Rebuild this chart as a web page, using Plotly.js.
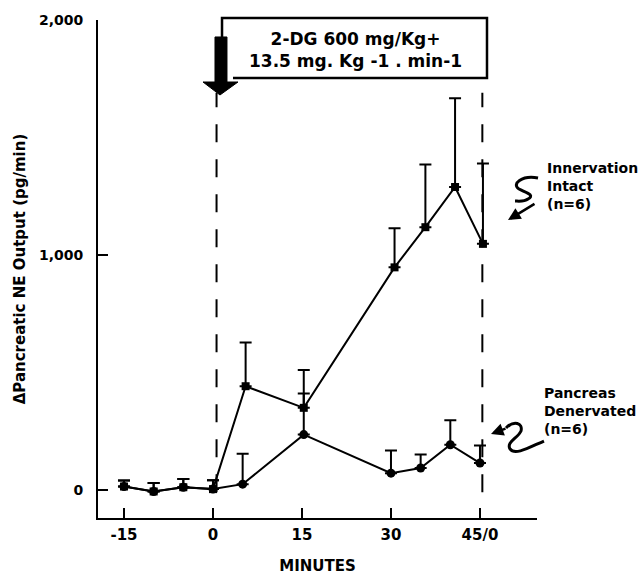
<!DOCTYPE html>
<html><head><meta charset="utf-8">
<script src="https://cdn.plot.ly/plotly-3.0.1.min.js"></script>
<style>html,body{margin:0;padding:0;background:#fff}</style>
</head><body><div id="chart" style="width:644px;height:575px"></div>
<script>
// ---- data ----
const minutesIntact = [-15, -10, -5, 0, 5.5, 15.3, 30.6, 35.8, 40.8, 45.5];
const intactNE = [14, -7, 11, 3, 441, 349, 947, 1118, 1289, 1047];
const intactSEM = [26, 36, 35, 38, 186, 161, 167, 267, 378, 342];
const minutesDenervated = [-15, -10, -5, 0, 5, 15.3, 30, 35, 40, 45];
const denervatedNE = [14, -7, 11, 3, 24, 235, 71, 93, 192, 114];
const denervatedSEM = [26, 36, 35, 38, 130, 175, 96, 57, 104, 75];
const xTickVals = [-15, 0, 15, 30, 45];
const xTickText = ['-15', '0', '15', '30', '45/0'];
const yTickVals = [0, 1000, 2000];
const yTickText = ['0', '1,000', '2,000'];
const infusionStart = 0.6;
const infusionEnd = 45.4;
const boxText = '2-DG 600 mg/Kg+<br>13.5 mg. Kg -1 . min-1';
const intactLabel = ['Innervation', 'Intact', '(n=6)'];
const denervLabel = ['Pancreas', 'Denervated', '(n=6)'];

// ---- geometry ----
const W = 644, H = 575, ML = 98, MR = 107, MT = 20, MB = 57;
const PW = W - ML - MR, PH = H - MT - MB;
const px = x => (x - ML) / PW;
const py = y => (H - MB - y) / PH;
function path(cmds) {
  return cmds.map(c => {
    if (typeof c === 'string') return c;
    return px(c[0]).toFixed(4) + ',' + py(c[1]).toFixed(4);
  }).join(' ');
}
const FONT = 'DejaVu Sans';
const bold = (size) => ({family: FONT, size: size, color: '#000', weight: 700});

const traces = [
  {
    x: minutesIntact, y: intactNE, type: 'scatter', mode: 'lines+markers',
    name: 'Innervation Intact (n=6)',
    line: {color: '#000', width: 2},
    marker: {symbol: 'square', size: 8, color: '#000'},
    error_y: {type: 'data', symmetric: false, array: intactSEM,
      arrayminus: intactSEM.map(() => 0), color: '#000', thickness: 2, width: 6},
    showlegend: false
  },
  {
    x: minutesDenervated, y: denervatedNE, type: 'scatter', mode: 'lines+markers',
    name: 'Pancreas Denervated (n=6)',
    line: {color: '#000', width: 2},
    marker: {symbol: 'circle', size: 9, color: '#000'},
    error_y: {type: 'data', symmetric: false, array: denervatedSEM,
      arrayminus: denervatedSEM.map(() => 0), color: '#000', thickness: 2, width: 6},
    showlegend: false
  }
];

const shapes = [
  {type: 'line', xref: 'x', yref: 'y', x0: infusionStart, x1: infusionStart, y0: -10, y1: 1690,
    line: {color: '#000', width: 2, dash: '18px,17px'}},
  {type: 'line', xref: 'x', yref: 'y', x0: infusionEnd, x1: infusionEnd, y0: -10, y1: 1690,
    line: {color: '#000', width: 2, dash: '18px,17px'}},
  // box around infusion text
  {type: 'path', xref: 'paper', yref: 'paper',
    path: path(['M', [222, 37], 'L', [222, 18], 'L', [487, 18], 'L', [487, 78], 'L', [233, 78]]),
    line: {color: '#000', width: 2.5}},
  // big down arrow
  {type: 'path', xref: 'paper', yref: 'paper',
    path: path(['M', [215, 37], 'L', [227, 37], 'L', [227, 82], 'L', [238, 82], 'L', [220, 95],
      'L', [203, 82], 'L', [215, 82], 'Z']),
    fillcolor: '#000', line: {color: '#000', width: 1}},
  // S squiggle (intact)
  {type: 'path', xref: 'paper', yref: 'paper',
    path: path(['M', [538, 178], 'C', [522, 175], [511, 184], [519, 189], 'C', [527, 193], [535, 195], [528, 199],
      'C', [524, 202], [518, 201], [515, 201]]),
    line: {color: '#000', width: 3}},
  // squiggle (denervated)
  {type: 'path', xref: 'paper', yref: 'paper',
    path: path(['M', [544, 441], 'C', [530, 447], [515, 456], [510, 449], 'C', [506, 442], [518, 438], [521, 431],
      'C', [523, 423], [514, 420], [506, 428]]),
    line: {color: '#000', width: 3}}
];

const annotations = [
  {xref: 'paper', yref: 'paper', x: px(355), y: py(50), text: boxText, showarrow: false,
    font: bold(17), xanchor: 'center', yanchor: 'middle', align: 'center'},
  {xref: 'paper', yref: 'paper', x: px(508), y: py(220), ax: 28, ay: -17, text: '',
    showarrow: true, arrowhead: 2, arrowsize: 1, arrowwidth: 2.5, arrowcolor: '#000'},
  {xref: 'paper', yref: 'paper', x: px(491), y: py(434), ax: 16, ay: -6, text: '',
    showarrow: true, arrowhead: 2, arrowsize: 1, arrowwidth: 2.5, arrowcolor: '#000'}
];
const intactY = [168, 186, 204];
intactLabel.forEach((t, i) => annotations.push({xref: 'paper', yref: 'paper', x: px(545), y: py(intactY[i]),
  text: t, showarrow: false, xanchor: 'left', yanchor: 'middle', font: bold(14)}));
const denY = [393, 411, 429];
denervLabel.forEach((t, i) => annotations.push({xref: 'paper', yref: 'paper', x: px(542), y: py(denY[i]),
  text: t, showarrow: false, xanchor: 'left', yanchor: 'middle', font: bold(14)}));

const layout = {
  width: W, height: H,
  margin: {l: ML, r: MR, t: MT, b: MB, pad: 0},
  paper_bgcolor: '#fff', plot_bgcolor: '#fff',
  font: {family: FONT, color: '#000'},
  showlegend: false,
  xaxis: {
    range: [-19.38, 54.61], tickvals: xTickVals, ticktext: xTickText,
    ticks: 'inside', ticklen: 10, tickwidth: 2, tickcolor: '#000',
    showline: true, linewidth: 2, linecolor: '#000', showgrid: false, zeroline: false,
    tickfont: bold(15), automargin: false, ticklabelstandoff: 2,
    title: {text: 'MINUTES', font: bold(15), standoff: 18}
  },
  yaxis: {
    range: [-120, 2000], tickvals: yTickVals, ticktext: yTickText,
    ticks: 'inside', ticklen: 10, tickwidth: 2, tickcolor: '#000',
    showline: true, linewidth: 2, linecolor: '#000', showgrid: false, zeroline: false,
    tickfont: bold(14), automargin: false, ticklabelstandoff: 10,
    title: {text: 'ΔPancreatic NE Output (pg/min)', font: bold(15), standoff: 10}
  },
  shapes: shapes,
  annotations: annotations
};

Plotly.newPlot('chart', traces, layout, {displayModeBar: false, staticPlot: true});
</script>
</body></html>
